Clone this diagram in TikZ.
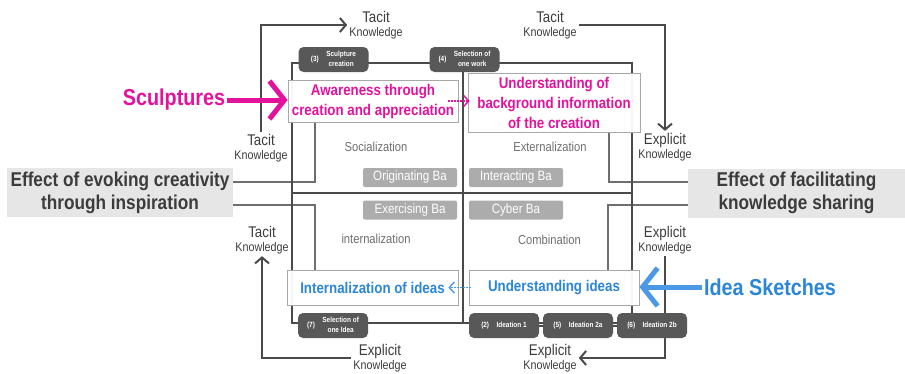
\documentclass[tikz,border=0pt]{standalone}
\usepackage{fontspec}
\setmainfont[FakeStretch=0.86]{Liberation Sans}
\usetikzlibrary{arrows.meta, calc}
\definecolor{Mag}    {HTML}{E3129D}
\definecolor{SkyB}   {HTML}{2B86D6}
\definecolor{SkyA}   {HTML}{4A98E6}
\definecolor{DGray}  {HTML}{4A4A4A}
\definecolor{TGray}  {HTML}{3C3C3C}
\definecolor{MGray}  {HTML}{6E6E6E}
\definecolor{BaGray} {HTML}{ACACAC}
\definecolor{LGray}  {HTML}{E6E6E6}
\definecolor{BoxGray}{HTML}{A8A8A8}
\tikzset{
  frame/.style={draw=DGray, line width=2.5pt},
  guide/.style={draw=MGray, line width=1.2pt},
  effbox/.style={
    rectangle, fill=LGray, text=TGray,
    font=\fontsize{20}{23}\selectfont\bfseries, align=center,
    inner sep=0pt, minimum width=226, minimum height=49,
  },
  txtbox/.style args={#1}{
    rectangle, draw=BoxGray, line width=0.8pt,
    fill=white, fill opacity=0.95, text opacity=1, text=#1,
    font=\fontsize{15.5}{20}\selectfont\bfseries, align=center,
    inner sep=0pt,
  },
  ba/.style={
    rectangle, rounded corners=2pt, fill=BaGray, text=white,
    font=\fontsize{13.5}{13}\selectfont,
    minimum width=94, minimum height=19, inner sep=0pt,
  },
  stage/.style={
    rectangle, rounded corners=5pt, fill=DGray!92!white, text=white,
    font=\fontsize{7.5}{10.5}\selectfont\bfseries,
    minimum width=70, minimum height=25, inner sep=0pt,
  },
  quad/.style={font=\fontsize{13}{13}\selectfont, text=MGray},
  knw/.style={
    font=\fontsize{15.5}{14}\selectfont, text=TGray,
    align=center, inner sep=2pt,
  },
  bigtxt/.style={font=\fontsize{23}{24}\selectfont\bfseries, inner sep=2pt},
  kflow/.style={
    -{Straight Barb[length=6pt,width=14pt]},
    draw=DGray, line width=2pt,
  },
  bigarr/.style args={#1}{
    -{Straight Barb[length=15pt,width=38pt]},
    line width=5pt, color=#1,
  },
  dotarr/.style args={#1}{
    -{Straight Barb[length=5pt,width=11pt]},
    dash pattern=on 1.5pt off 1.5pt, line width=1.4pt, color=#1,
  },
}
\begin{document}
\begin{tikzpicture}[x=1pt,y=-1pt]
  \useasboundingbox (0,0) rectangle (905,373);

  % side panels
  \node[effbox] (effL) at (120,192.5) {Effect of evoking creativity\\through inspiration};
  \node[effbox, minimum width=217] (effR) at (796.5,193) {Effect of facilitating\\knowledge sharing};

  % inner guide frame
  \coordinate (gTL) at (315,182);
  \coordinate (gTR) at (609,182);
  \coordinate (gBL) at (315,205);
  \coordinate (gBR) at (608,205);
  \draw[guide] (gTL -| effL.east) -- (gTL) -- ++(0,-60);
  \draw[guide] (gTR -| effR.west) -- (gTR) -- ++(0,-50);
  \draw[guide] (gBL -| effL.east) -- (gBL) -- ++(0,65);
  \draw[guide] (gBR -| effR.west) -- (gBR) -- ++(0,65);

  % quadrant frame
  \coordinate (fTL) at (292,63);
  \coordinate (fBR) at (632,323);
  \coordinate (fC) at (463,193);
  \draw[frame] (fTL) rectangle (fBR);
  \draw[frame] (fTL |- fC) -- (fBR |- fC);
  \draw[frame] (fTL -| fC) -- (fBR -| fC);

  \node[txtbox=Mag, minimum width=170, minimum height=42] (aware) at (373,101)
       {Awareness through\\creation and appreciation};
  \node[txtbox=Mag, minimum width=172, minimum height=59] (bginfo) at (554,102.5)
       {Understanding of\\background information\\of the creation};
  \node[txtbox=SkyB, minimum width=171, minimum height=35] (intern) at (372.5,287.5)
       {Internalization of ideas};
  \node[txtbox=SkyB, minimum width=170, minimum height=35] (underst) at (554,287.5)
       {Understanding ideas};

  \node[quad] (soc) at (376,147) {Socialization};
  \node[quad] (ext) at (550,147) {Externalization};
  \node[quad] (int) at (376,239) {internalization};
  \node[quad] (comb) at (549.5,240) {Combination};

  \foreach \nm/\lbl/\xx/\yy in {
      baO/Originating Ba/410/177.5,
      baI/Interacting Ba/516/177.5,
      baE/Exercising Ba/410/210,
      baC/Cyber Ba/516/210}{
    \node[ba] (\nm) at (\xx,\yy) {\lbl};
  }

  % tacit / explicit labels and their cycle
  \foreach \nm/\kword/\xx/\yy in {
      tacTop/Tacit/376/25,
      tacTopR/Tacit/550/25,
      expR1/Explicit/665/147,
      expR2/Explicit/665/240,
      expBR/Explicit/550/358,
      expBL/Explicit/380/358,
      tacL2/Tacit/262/240,
      tacL1/Tacit/261/148}{
    \node[knw] (\nm) at (\xx,\yy) {\kword\\{\fontsize{12.5}{12}\selectfont Knowledge}};
  }
  \draw[kflow] (tacL1.north) |- (tacTop.west);
  \draw[kflow] (tacTopR.east) -| (expR1.north);
  \draw[kflow] (expR2.south) |- (expBR.east);
  \draw[kflow] (expBL.west) -| (tacL2.south);

  % process steps
  \node[stage] (s3) at (333.5,59.5)
       {(3)\quad\begin{tabular}{@{}c@{}}Sculpture\\creation\end{tabular}};
  \node[stage] (s4) at (464.5,59.5)
       {(4)\quad\begin{tabular}{@{}c@{}}Selection of\\one work\end{tabular}};
  \node[stage] (s7) at (333,325.5)
       {(7)\quad\begin{tabular}{@{}c@{}}Selection of\\one Idea\end{tabular}};
  \foreach \nm/\num/\lbl/\xx in {
      s2/2/Ideation 1/504,
      s5/5/Ideation 2a/578,
      s6/6/Ideation 2b/652}{
    \node[stage] (\nm) at (\xx,325.5) {(\num)\quad\lbl};
  }
  \draw[DGray, line width=2pt] (s2) -- (s5);
  \draw[DGray, line width=2pt] (s5) -- (s6);

  % inputs
  \node[bigtxt, text=Mag] (sculpt) at (174,100) {Sculptures};
  \node[bigtxt, text=SkyB] (sketch) at (770,287) {Idea Sketches};
  \draw[bigarr=Mag] (sculpt.east) -- (sculpt.east -| aware.west);
  \draw[bigarr=SkyA] (sketch.west) -- (sketch.west -| underst.east);

  \draw[dotarr=Mag, shorten <=-10pt, shorten >=-2pt]
       (aware.east) -- (aware.east -| bginfo.west);
  \draw[dotarr=SkyA, shorten <=-2pt, shorten >=-10pt]
       (underst.west) -- (underst.west -| intern.east);
\end{tikzpicture}
\end{document}
